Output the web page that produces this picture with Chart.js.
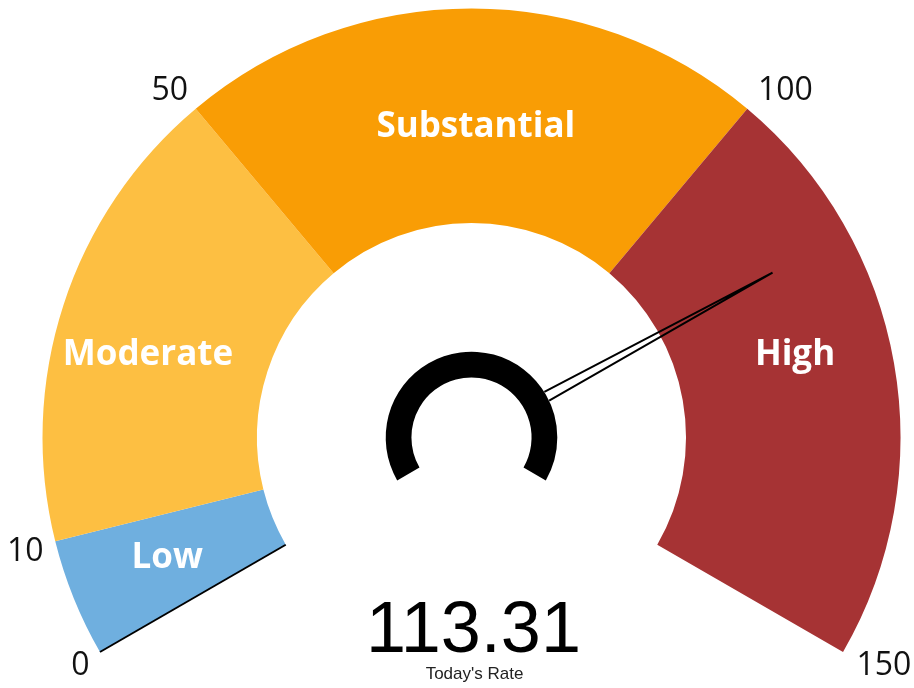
<!DOCTYPE html>
<html>
<head>
<meta charset="utf-8">
<script src="https://cdn.jsdelivr.net/npm/chart.js@4/dist/chart.umd.min.js"></script>
<style>
  html, body { margin: 0; padding: 0; background: #fff; }
  #wrap { width: 914px; height: 688px; }
</style>
</head>
<body>
<div id="wrap"><canvas id="chart" width="914" height="688"></canvas></div>
<script>
// gauge bands
const bandLabels = ["Low", "Moderate", "Substantial", "High"];
const bandValues = [10, 40, 50, 50];
const bandColors = ["#6FAFDF", "#FDBF42", "#F99D05", "#A63334"];
// where along the scale each band name sits
const labelAnchors = [5.6, 28, 75.5, 122];
const tickValues = [0, 10, 50, 100, 150];
const scaleMin = 0;
const scaleMax = 150;
const currentValue = 113.31;
const valueCaption = "Today's Rate";

const labelRadius = [0.76, 0.78, 0.73, 0.78]; // fraction of outer radius

const gaugeExtras = {
  id: "gaugeExtras",
  afterDatasetsDraw(chart) {
    const ctx = chart.ctx;
    const arcs = chart.getDatasetMeta(0).data;
    const cx = arcs[0].x, cy = arcs[0].y;
    const outer = arcs[0].outerRadius, inner = arcs[0].innerRadius;
    const a0 = arcs[0].startAngle, a1 = arcs[arcs.length - 1].endAngle;
    const angleOf = v => a0 + (v - scaleMin) / (scaleMax - scaleMin) * (a1 - a0);

    ctx.save();

    // dark edge at the start of the gauge
    ctx.strokeStyle = "#000";
    ctx.lineWidth = 2;
    ctx.beginPath();
    ctx.moveTo(cx + inner * Math.cos(a0), cy + inner * Math.sin(a0));
    ctx.lineTo(cx + outer * Math.cos(a0), cy + outer * Math.sin(a0));
    ctx.stroke();

    // band names
    ctx.fillStyle = "#fff";
    ctx.font = "bold 35px 'Open Sans'";
    ctx.textAlign = "center";
    ctx.textBaseline = "middle";
    bandLabels.forEach((name, i) => {
      const a = angleOf(labelAnchors[i]);
      const r = outer * labelRadius[i];
      ctx.fillText(name, cx + r * Math.cos(a), cy + r * Math.sin(a) + 3);
    });

    // tick labels
    ctx.fillStyle = "#111";
    ctx.font = "32px 'Open Sans'";
    ctx.textBaseline = "alphabetic";
    tickValues.forEach(v => {
      const a = angleOf(v);
      const x = cx + (outer + 12) * Math.cos(a);
      const y = cy + (outer + 12) * Math.sin(a);
      ctx.textAlign = x < cx ? "right" : "left";
      ctx.fillText(String(v), x + (x < cx ? 0 : 3), y < cy ? y : y + 17);
    });

    // needle
    const hubOuter = outer * 0.2, hubInner = outer * 0.14;
    const na = angleOf(currentValue);
    const tipR = outer * 0.8;
    const half = 5;
    const px = -Math.sin(na), py = Math.cos(na);
    const bx = cx + hubOuter * Math.cos(na), by = cy + hubOuter * Math.sin(na);
    ctx.strokeStyle = "#000";
    ctx.lineWidth = 2;
    ctx.lineJoin = "miter";
    ctx.beginPath();
    ctx.moveTo(bx + px * half, by + py * half);
    ctx.lineTo(cx + tipR * Math.cos(na), cy + tipR * Math.sin(na));
    ctx.lineTo(bx - px * half, by - py * half);
    ctx.stroke();

    // hub ring
    ctx.fillStyle = "#000";
    ctx.beginPath();
    ctx.arc(cx, cy, hubOuter, a0, a1);
    ctx.arc(cx, cy, hubInner, a1, a0, true);
    ctx.closePath();
    ctx.fill();

    // value
    ctx.textAlign = "center";
    ctx.textBaseline = "alphabetic";
    ctx.fillStyle = "#000";
    ctx.font = "72px 'Liberation Sans'";
    ctx.fillText(currentValue.toFixed(2), cx + 2, cy + inner);
    ctx.fillStyle = "#222";
    ctx.font = "17px 'Liberation Sans'";
    ctx.fillText(valueCaption, cx + 3, cy + inner + 27);

    ctx.restore();
  }
};

new Chart(document.getElementById("chart"), {
  type: "doughnut",
  data: {
    labels: bandLabels,
    datasets: [{
      data: bandValues,
      backgroundColor: bandColors,
      borderWidth: 0
    }]
  },
  options: {
    responsive: false,
    animation: false,
    rotation: -120,
    circumference: 240,
    cutout: "50%",
    layout: { padding: { left: 42.5, right: 13.5, top: 8.5, bottom: 36 } },
    plugins: {
      legend: { display: false },
      tooltip: { enabled: false }
    }
  },
  plugins: [gaugeExtras]
});
</script>
</body>
</html>
